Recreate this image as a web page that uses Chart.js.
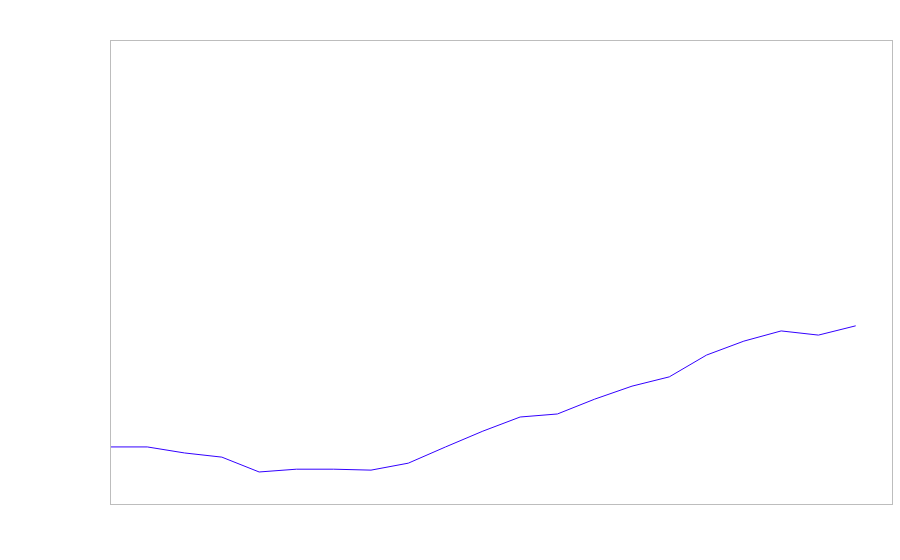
<!DOCTYPE html>
<html>
<head>
<meta charset="utf-8">
<script src="https://cdn.jsdelivr.net/npm/chart.js@4/dist/chart.umd.min.js"></script>
<style>
  html, body { margin: 0; padding: 0; background: #fff; }
  canvas { display: block; }
</style>
</head>
<body>
<canvas id="chart" width="900" height="560"></canvas>
<script>
// x positions (22 slots, last one empty)
const labels = Array.from({ length: 22 }, (_, i) => String(i));
const values = [12.3, 12.3, 11.0, 10.1, 6.9, 7.5, 7.5, 7.3, 8.8, 12.3, 15.7,
  18.75, 19.4, 22.6, 25.4, 27.4, 32.1, 35.1, 37.3, 36.4, 38.4];
const yMin = 0;
const yMax = 100;

// frame round the plot area
const frame = {
  id: 'frame',
  afterDraw(chart) {
    const { ctx, chartArea: a } = chart;
    ctx.save();
    ctx.strokeStyle = '#bdbdbd';
    ctx.lineWidth = 1;
    ctx.strokeRect(a.left + 0.5, a.top + 0.5, a.right - a.left - 1, a.bottom - a.top);
    ctx.restore();
  }
};

new Chart(document.getElementById('chart').getContext('2d'), {
  type: 'line',
  data: {
    labels: labels,
    datasets: [{
      data: values,
      borderColor: '#3300ff',
      borderWidth: 1,
      pointRadius: 0,
      tension: 0,
      fill: false
    }]
  },
  options: {
    responsive: false,
    animation: false,
    layout: { padding: { left: 110, top: 40, right: 7, bottom: 56 } },
    plugins: { legend: { display: false }, tooltip: { enabled: false } },
    scales: {
      x: { display: false, offset: false },
      y: { display: false, min: yMin, max: yMax }
    }
  },
  plugins: [frame]
});
</script>
</body>
</html>
